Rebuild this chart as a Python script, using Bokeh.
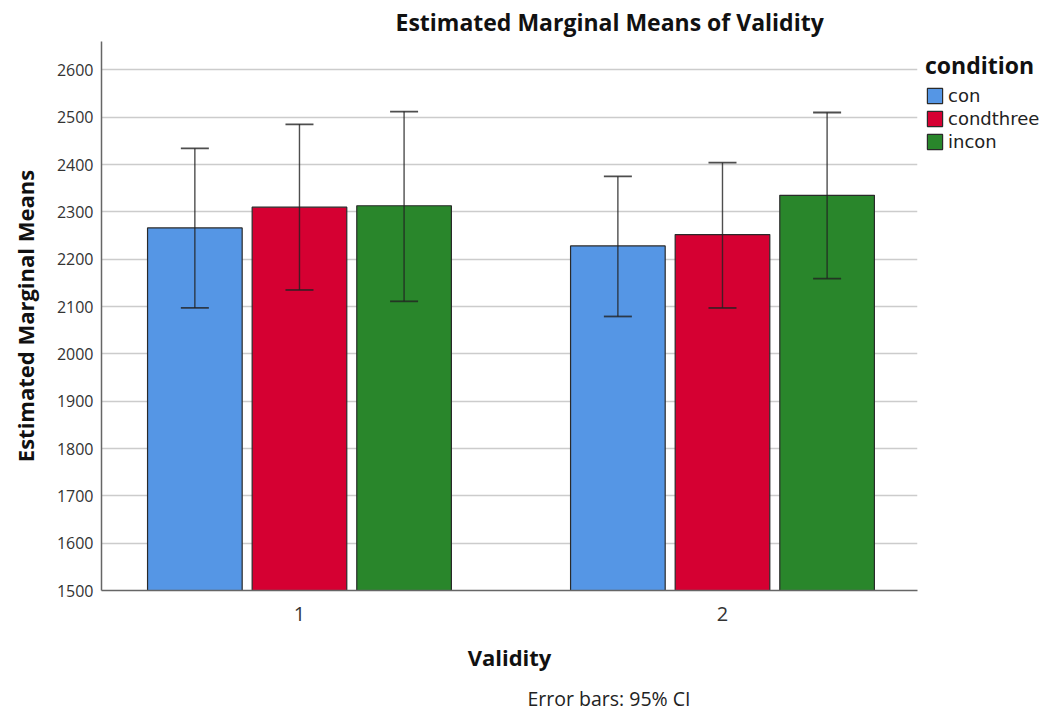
from bokeh.plotting import figure
from bokeh.models import (Range1d, FixedTicker, ColumnDataSource, Legend, LegendItem,
                          Whisker, TeeHead, Title)
from bokeh.embed import file_html
from bokeh.resources import INLINE

# ---- data ----
validity = ["1", "2"]
conditions = ["con", "condthree", "incon"]
means_con = [2266, 2228]
means_condthree = [2310, 2252]
means_incon = [2313, 2335]
lower_con = [2097, 2079]
upper_con = [2434, 2375]
lower_condthree = [2135, 2097]
upper_condthree = [2485, 2404]
lower_incon = [2111, 2159]
upper_incon = [2512, 2510]
y_ticks = [1500, 1600, 1700, 1800, 1900, 2000, 2100, 2200, 2300, 2400, 2500, 2600]

colors = ["#5596E5", "#D50032", "#29862B"]
FONT = "Open Sans"

series = [
    (means_con, lower_con, upper_con),
    (means_condthree, lower_condthree, upper_condthree),
    (means_incon, lower_incon, upper_incon),
]

p = figure(frame_width=816, frame_height=549, output_backend="svg", toolbar_location=None,
           x_range=Range1d(0.532, 2.461), y_range=Range1d(1500, 2660),
           min_border_left=101, min_border_right=110, min_border_top=37, min_border_bottom=112)
p.outline_line_color = None
p.background_fill_color = "white"
p.border_fill_color = "white"

# Title
p.title.text = "Estimated Marginal Means of Validity"
p.title.align = "left"
p.title.offset = 294
p.title.text_font = FONT
p.title.text_font_size = "23px"
p.title.text_font_style = "bold"
p.title.text_color = "#111111"
p.title.standoff = 7

# grid
p.xgrid.grid_line_color = None
p.ygrid.grid_line_color = "#cccccc"
p.ygrid.grid_line_width = 1.6
p.ygrid.ticker = FixedTicker(ticks=y_ticks)

# axes
p.yaxis.ticker = FixedTicker(ticks=y_ticks)
p.xaxis.ticker = FixedTicker(ticks=[1, 2])
p.xaxis.major_label_overrides = {1: validity[0], 2: validity[1]}
for ax in (p.xaxis[0], p.yaxis[0]):
    ax.major_tick_line_color = None
    ax.minor_tick_line_color = None
    ax.major_tick_out = 0
    ax.major_tick_in = 0
    ax.axis_line_color = "#666666"
    ax.axis_line_width = 1.5
    ax.major_label_text_font = FONT
    ax.major_label_text_color = "#333333"
    ax.axis_label_text_font = FONT
    ax.axis_label_text_font_style = "bold"
    ax.axis_label_text_color = "#111111"
    ax.axis_label_text_font_size = "22px"

p.yaxis.axis_label = "Estimated Marginal Means"
p.yaxis.major_label_text_font_size = "16px"
p.yaxis.major_label_standoff = 8
p.yaxis.axis_label_standoff = 14
p.xaxis.axis_label = "Validity"
p.xaxis.major_label_text_font_size = "20px"
p.xaxis.major_label_standoff = 16
p.xaxis.axis_label_standoff = 18

bar_w = 0.2237
step = 0.2473
items = []
for i, (cond, (m, lo, hi), col) in enumerate(zip(conditions, series, colors)):
    xs = [k + 1 + (i - 1) * step for k in range(len(validity))]
    src = ColumnDataSource(dict(x=xs, top=m, lower=lo, upper=hi))
    r = p.vbar(x="x", top="top", bottom=1500, width=bar_w, source=src,
               fill_color=col, line_color="#2a2a2a", line_width=1.2)
    items.append(LegendItem(label=cond, renderers=[r]))
    w = Whisker(base="x", lower="lower", upper="upper", source=src, level="overlay",
                line_color="#222222", line_width=1.4, line_alpha=0.8,
                upper_head=TeeHead(size=28, line_color="#222222", line_width=1.8, line_alpha=0.8),
                lower_head=TeeHead(size=28, line_color="#222222", line_width=1.8, line_alpha=0.8))
    p.add_layout(w)

legend = Legend(items=items, location="top_left")
legend.title = "condition"
legend.title_text_font = FONT
legend.title_text_font_size = "23px"
legend.title_text_font_style = "bold"
legend.title_text_color = "#111111"
legend.title_standoff = 4
legend.label_text_font = "DejaVu Sans"
legend.label_text_font_size = "18px"
legend.label_text_color = "#222222"
legend.glyph_width = 19
legend.glyph_height = 19
legend.label_height = 19
legend.label_standoff = 4
legend.spacing = 2
legend.padding = 5
legend.margin = 8
legend.border_line_color = None
legend.background_fill_alpha = 0
p.add_layout(legend, "right")

foot = Title(text="Error bars: 95% CI", align="left", offset=426,
             text_font=FONT, text_font_size="19.5px", text_font_style="normal",
             text_color="#222222", standoff=16)
p.add_layout(foot, "below")

open("out.html", "w").write(file_html(p, INLINE))
